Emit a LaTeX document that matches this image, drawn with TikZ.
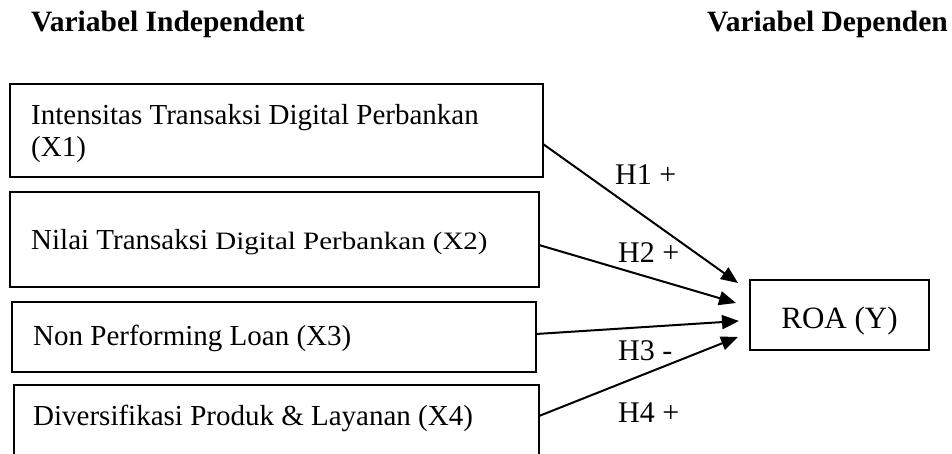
\documentclass[tikz,border=0pt]{standalone}
\usepackage{fontspec}
\usepackage{graphicx}
\setmainfont{Liberation Serif}
\usetikzlibrary{arrows.meta,calc}
\begin{document}
\begin{tikzpicture}[x=1pt,y=-1pt,
  varbox/.style={draw,line width=1.5pt,inner sep=0pt,outer sep=0pt,anchor=north west},
  boxtext/.style={anchor=base west,inner sep=0pt,font=\fontsize{29}{33}\selectfont},
  head/.style={anchor=base west,inner sep=0pt,font=\fontsize{29.5}{33}\selectfont\bfseries},
  hyp/.style={anchor=base west,inner sep=0pt,font=\fontsize{30}{34}\selectfont},
  link/.style={line width=2pt,-{Triangle[length=17pt,width=14pt]}}]
\useasboundingbox (0,0) rectangle (952,454);
% headers
\node[head] (hi) at (31,32) {Variabel Independent};
\node[head] (hd) at (707,32) {Variabel Dependen};
% boxes
\node[varbox,minimum width=533pt,minimum height=93pt] (b1) at (10,84) {};
\node[varbox,minimum width=529pt,minimum height=95pt] (b2) at (10,192) {};
\node[varbox,minimum width=524pt,minimum height=70pt] (b3) at (12,302) {};
\node[varbox,minimum width=525pt,minimum height=80pt] (b4) at (14,385) {};
\node[varbox,minimum width=179pt,minimum height=70pt] (roa) at (750,280) {};
% box texts
\node[boxtext] (t1a) at (31,125) {Intensitas Transaksi Digital Perbankan};
\node[boxtext] (t1b) at (31,157) {(X1)};
\node[boxtext] (t2) at (31,250) {Nilai Transaksi \scalebox{1.16}[1]{\fontsize{25}{30}\selectfont Digital Perbankan (X2)}};
\node[boxtext] (t3) at (33,345) {Non Performing Loan (X3)};
\node[boxtext] (t4) at (33,425) {Diversifikasi Produk \& Layanan (X4)};
\node[boxtext,anchor=base,font=\fontsize{31}{34}\selectfont] (ty) at (839.5,328) {ROA (Y)};
% arrows
\draw[link] ($(b1.north east)+(0,60)$) -- ($(roa.west)+(-12,-32)$);
\draw[link] ($(b2.north east)+(0,53)$) -- ($(roa.west)+(-14,-12)$);
\draw[link] ($(b3.north east)+(0,32)$) -- ($(roa.west)+(-11,6)$);
\draw[link] ($(b4.north east)+(0,31)$) -- ($(roa.west)+(-12,22)$);
% hypothesis labels
\node[hyp] (h1) at (615,185) {H1 +};
\node[hyp] (h2) at (618,262) {H2 +};
\node[hyp] (h3) at (618,360) {H3 -};
\node[hyp] (h4) at (618,422) {H4 +};
\end{tikzpicture}
\end{document}
